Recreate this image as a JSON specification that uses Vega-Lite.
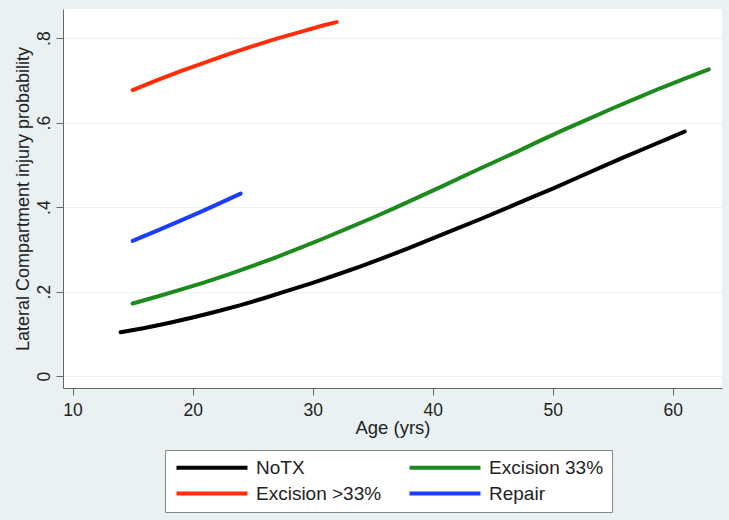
{
  "$schema": "https://vega.github.io/schema/vega-lite/v6.json",
  "width": 659,
  "height": 379,
  "autosize": {"type": "none"},
  "padding": {"left": 63, "top": 9, "right": 7, "bottom": 132},
  "background": "#eaf1f3",
  "view": {"fill": "white", "stroke": null},
  "config": {
    "font": "Liberation Sans",
    "axis": {"labelFont": "Liberation Sans", "titleFont": "Liberation Sans", "labelColor": "#222", "titleColor": "#222", "domainColor": "#666", "tickColor": "#666", "titleFontWeight": "normal", "labelFontSize": 17.5}
  },
  "data": {
    "values": [
      {"g": "NoTX", "age": 14, "p": 0.104},
      {"g": "NoTX", "age": 16, "p": 0.114},
      {"g": "NoTX", "age": 18, "p": 0.126},
      {"g": "NoTX", "age": 20, "p": 0.139},
      {"g": "NoTX", "age": 22, "p": 0.153},
      {"g": "NoTX", "age": 24, "p": 0.168},
      {"g": "NoTX", "age": 26, "p": 0.185},
      {"g": "NoTX", "age": 28, "p": 0.203},
      {"g": "NoTX", "age": 30, "p": 0.221},
      {"g": "NoTX", "age": 32, "p": 0.240},
      {"g": "NoTX", "age": 34, "p": 0.260},
      {"g": "NoTX", "age": 36, "p": 0.281},
      {"g": "NoTX", "age": 38, "p": 0.303},
      {"g": "NoTX", "age": 40, "p": 0.326},
      {"g": "NoTX", "age": 42, "p": 0.349},
      {"g": "NoTX", "age": 44, "p": 0.372},
      {"g": "NoTX", "age": 46, "p": 0.396},
      {"g": "NoTX", "age": 48, "p": 0.420},
      {"g": "NoTX", "age": 50, "p": 0.444},
      {"g": "NoTX", "age": 52, "p": 0.469},
      {"g": "NoTX", "age": 54, "p": 0.494},
      {"g": "NoTX", "age": 56, "p": 0.519},
      {"g": "NoTX", "age": 58, "p": 0.543},
      {"g": "NoTX", "age": 60, "p": 0.567},
      {"g": "NoTX", "age": 61, "p": 0.579},
      {"g": "Excision 33%", "age": 15, "p": 0.172},
      {"g": "Excision 33%", "age": 17, "p": 0.188},
      {"g": "Excision 33%", "age": 19, "p": 0.205},
      {"g": "Excision 33%", "age": 21, "p": 0.222},
      {"g": "Excision 33%", "age": 23, "p": 0.241},
      {"g": "Excision 33%", "age": 25, "p": 0.261},
      {"g": "Excision 33%", "age": 27, "p": 0.282},
      {"g": "Excision 33%", "age": 29, "p": 0.304},
      {"g": "Excision 33%", "age": 31, "p": 0.327},
      {"g": "Excision 33%", "age": 33, "p": 0.351},
      {"g": "Excision 33%", "age": 35, "p": 0.375},
      {"g": "Excision 33%", "age": 37, "p": 0.400},
      {"g": "Excision 33%", "age": 39, "p": 0.426},
      {"g": "Excision 33%", "age": 41, "p": 0.452},
      {"g": "Excision 33%", "age": 43, "p": 0.479},
      {"g": "Excision 33%", "age": 45, "p": 0.505},
      {"g": "Excision 33%", "age": 47, "p": 0.531},
      {"g": "Excision 33%", "age": 49, "p": 0.558},
      {"g": "Excision 33%", "age": 51, "p": 0.584},
      {"g": "Excision 33%", "age": 53, "p": 0.609},
      {"g": "Excision 33%", "age": 55, "p": 0.634},
      {"g": "Excision 33%", "age": 57, "p": 0.658},
      {"g": "Excision 33%", "age": 59, "p": 0.682},
      {"g": "Excision 33%", "age": 61, "p": 0.704},
      {"g": "Excision 33%", "age": 63, "p": 0.726},
      {"g": "Excision >33%", "age": 15, "p": 0.677},
      {"g": "Excision >33%", "age": 17, "p": 0.700},
      {"g": "Excision >33%", "age": 19, "p": 0.722},
      {"g": "Excision >33%", "age": 21, "p": 0.742},
      {"g": "Excision >33%", "age": 23, "p": 0.762},
      {"g": "Excision >33%", "age": 25, "p": 0.781},
      {"g": "Excision >33%", "age": 27, "p": 0.799},
      {"g": "Excision >33%", "age": 29, "p": 0.815},
      {"g": "Excision >33%", "age": 31, "p": 0.831},
      {"g": "Excision >33%", "age": 32, "p": 0.838},
      {"g": "Repair", "age": 15, "p": 0.320},
      {"g": "Repair", "age": 17, "p": 0.344},
      {"g": "Repair", "age": 19, "p": 0.368},
      {"g": "Repair", "age": 21, "p": 0.393},
      {"g": "Repair", "age": 23, "p": 0.419},
      {"g": "Repair", "age": 24, "p": 0.432}
    ]
  },
  "mark": {"type": "line", "strokeWidth": 4, "strokeCap": "round"},
  "encoding": {
    "x": {
      "field": "age", "type": "quantitative",
      "scale": {"domain": [9.2, 64.1], "nice": false, "zero": false},
      "axis": {"title": "Age (yrs)", "titleFontSize": 18.5, "values": [10, 20, 30, 40, 50, 60], "grid": false, "tickSize": 7, "labelPadding": 6, "titlePadding": 0}
    },
    "y": {
      "field": "p", "type": "quantitative",
      "scale": {"domain": [-0.028, 0.869], "nice": false, "zero": false},
      "axis": {
        "title": "Lateral Compartment injury probability",
        "titleFontSize": 18,
        "values": [0, 0.2, 0.4, 0.6, 0.8],
        "labelExpr": "datum.value == 0 ? '0' : replace(format(datum.value, '.1f'), '0.', '.')",
        "labelAngle": -90, "labelAlign": "center", "labelBaseline": "alphabetic",
        "tickSize": 7, "labelPadding": 7, "titlePadding": 3,
        "grid": true, "gridColor": "#eaf1f3", "gridWidth": 1.2
      }
    },
    "color": {
      "field": "g", "type": "nominal",
      "scale": {"domain": ["NoTX", "Excision >33%", "Excision 33%", "Repair"], "range": ["#000000", "#ff2d0a", "#1c8a1c", "#1c3cff"]},
      "legend": {
        "title": null, "orient": "none", "legendX": 102, "legendY": 441,
        "direction": "vertical", "columns": 2, "columnPadding": 19, "rowPadding": 6,
        "symbolType": "M-1,0H10.83", "symbolSize": 144, "symbolStrokeWidth": 4,
        "labelFontSize": 19, "labelFont": "Liberation Sans", "labelColor": "#222", "labelOffset": 64,
        "fillColor": "white", "strokeColor": "#888", "padding": 8
      }
    }
  }
}
